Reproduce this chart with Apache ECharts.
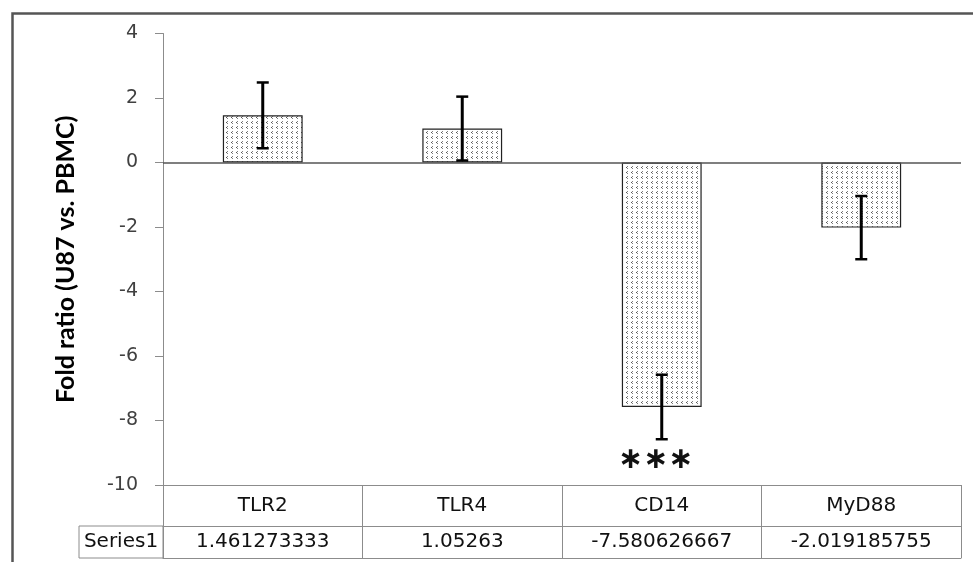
<!DOCTYPE html>
<html><head><meta charset="utf-8">
<script src="https://cdn.jsdelivr.net/npm/echarts@6/dist/echarts.min.js"></script>
<style>html,body{margin:0;padding:0;background:#fff}#c{width:973px;height:562px}</style>
</head><body><div id="c"></div>
<script>
// ---- data ----
const categories = ['TLR2', 'TLR4', 'CD14', 'MyD88'];
const values = [1.461273333, 1.05263, -7.580626667, -2.019185755];
const valueLabels = ['1.461273333', '1.05263', '-7.580626667', '-2.019185755'];
const errors = [1.02, 0.99, 1.0, 0.98];
const significance = ['', '', '***', ''];
const seriesName = 'Series1';
const yMin = -10, yMax = 4, yStep = 2;
const yTitle = 'Fold ratio (U87 vs. PBMC)';

// ---- layout / style ----
const FONT = 'DejaVu Sans';
const gridL = 163, gridR = 12, gridT = 33.5, gridB = 77;
const row1 = 41, row2 = 32;

// dotted pattern fill
const pc = document.createElement('canvas');
pc.width = 5; pc.height = 5;
const g = pc.getContext('2d');
g.fillStyle = '#fff'; g.fillRect(0, 0, 5, 5);
g.fillStyle = '#808080'; g.fillRect(2, 1, 1, 1); g.fillRect(2, 3, 1, 1);
g.fillStyle = '#555'; g.fillRect(1, 2, 1, 1);

const chart = echarts.init(document.getElementById('c'), null, {renderer: 'canvas'});

const option = {
  animation: false,
  backgroundColor: '#fff',
  grid: {left: gridL, right: gridR, top: gridT, bottom: gridB},
  xAxis: [
    {
      type: 'category', data: categories, position: 'bottom',
      axisLine: {onZero: false, lineStyle: {color: '#8c8c8c', width: 1}},
      axisTick: {show: true, length: row1 + row2, lineStyle: {color: '#8c8c8c', width: 1}},
      axisLabel: {color: '#111', fontFamily: FONT, fontSize: 20, margin: 11}
    },
    {
      type: 'category', data: valueLabels, position: 'bottom', offset: row1,
      axisLine: {onZero: false, lineStyle: {color: '#8c8c8c', width: 1}},
      axisTick: {show: false},
      axisLabel: {color: '#111', fontFamily: FONT, fontSize: 20, margin: 6}
    },
    {
      type: 'category', data: categories, position: 'bottom', offset: row1 + row2,
      axisLine: {onZero: false, lineStyle: {color: '#8c8c8c', width: 1}},
      axisTick: {show: false}, axisLabel: {show: false}
    }
  ],
  yAxis: {
    type: 'value', min: yMin, max: yMax, interval: yStep,
    name: yTitle, nameLocation: 'middle', nameGap: 85,
    nameTextStyle: {fontFamily: 'Lato', fontWeight: 'bold', fontSize: 25, color: '#000'},
    axisLine: {show: true, lineStyle: {color: '#8c8c8c', width: 1}},
    axisTick: {show: true, length: 8, lineStyle: {color: '#8c8c8c'}},
    splitLine: {show: false},
    axisLabel: {color: '#404040', fontFamily: FONT, fontSize: 19, margin: 25}
  },
  series: [
    {
      name: seriesName, type: 'bar', data: values, barWidth: '40%',
      itemStyle: {color: {image: pc, repetition: 'repeat'}, borderColor: '#222', borderWidth: 1.2},
      markLine: {
        silent: true, symbol: 'none', label: {show: false},
        lineStyle: {color: '#555', width: 1.5, type: 'solid'},
        data: [{yAxis: 0}]
      },
      z: 2
    },
    {
      type: 'custom', name: 'err', z: 10,
      data: categories.map((c, i) => [i, values[i] - errors[i], values[i] + errors[i], i]),
      renderItem: function (params, api) {
        const i = api.value(3);
        const lo = api.coord([api.value(0), api.value(1)]);
        const hi = api.coord([api.value(0), api.value(2)]);
        const cap = 6;
        const ch = [
          {type: 'line', shape: {x1: lo[0], y1: lo[1], x2: hi[0], y2: hi[1]}, style: {stroke: '#000', lineWidth: 3}},
          {type: 'line', shape: {x1: lo[0] - cap, y1: lo[1], x2: lo[0] + cap, y2: lo[1]}, style: {stroke: '#000', lineWidth: 2.5}},
          {type: 'line', shape: {x1: hi[0] - cap, y1: hi[1], x2: hi[0] + cap, y2: hi[1]}, style: {stroke: '#000', lineWidth: 2.5}}
        ];
        if (significance[i]) {
          ch.push({type: 'text', style: {
            text: significance[i].replace(/\*/g, '\u2217'), x: lo[0] - 6, y: lo[1] + 21,
            align: 'center', verticalAlign: 'middle',
            font: 'bold 30px "DejaVu Sans"', fill: '#111'
          }});
        }
        return {type: 'group', children: ch};
      }
    }
  ],
  graphic: [
    {type: 'rect', left: 10, top: 11, shape: {x: 0, y: 0, width: 1000, height: 600},
     style: {fill: 'none', stroke: '#555', lineWidth: 2.5}, silent: true, z: 0},
    {type: 'rect', shape: {x: gridL - 84, y: 562 - gridB + row1, width: 84, height: row2},
     style: {fill: 'none', stroke: '#8c8c8c', lineWidth: 1}, silent: true},
    {type: 'text', x: gridL - 42, y: 562 - gridB + row1 + row2 / 2,
     style: {text: seriesName, align: 'center', verticalAlign: 'middle', font: '20px "DejaVu Sans"', fill: '#111'}}
  ]
};
chart.setOption(option);
</script></body></html>
